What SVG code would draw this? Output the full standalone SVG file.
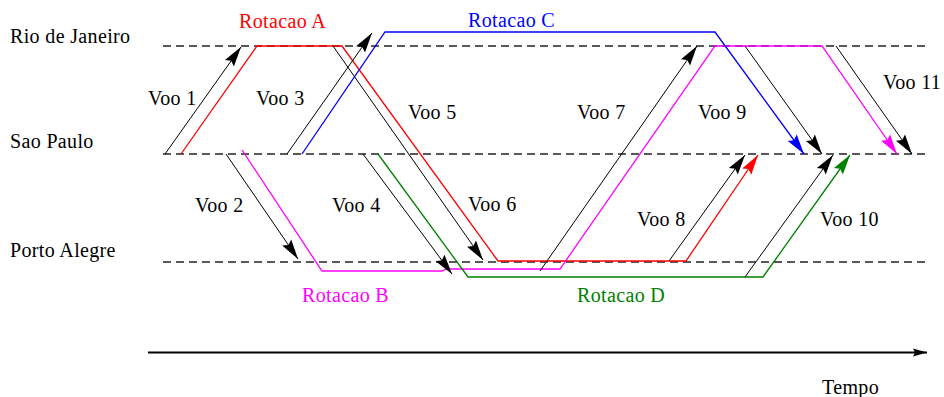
<svg xmlns="http://www.w3.org/2000/svg" width="944" height="397" viewBox="0 0 944 397">
<style>
  text { font-family: "Liberation Serif", "Times New Roman", serif; font-size: 20px; letter-spacing: 0.35px; fill: #000; }
  .lane { stroke: #222; stroke-width: 1.5; stroke-dasharray: 8 5; fill: none; }
  .f { stroke: #000; stroke-width: 1; fill: none; }
  .r { stroke: #ff0000; stroke-width: 1.3; fill: none; }
  .b { stroke: #0000ff; stroke-width: 1.3; fill: none; }
  .m { stroke: #ff00ff; stroke-width: 1.3; fill: none; }
  .g { stroke: #008000; stroke-width: 1.3; fill: none; }
</style>
<defs>
  <marker id="ak" markerUnits="userSpaceOnUse" markerWidth="24" markerHeight="14" viewBox="-22 -7 24 14" refX="0" refY="0" orient="auto"><path d="M0,0 L-20,-5.5 L-17,0 L-20,5.5 Z" fill="#000"/></marker>
  <marker id="ar" markerUnits="userSpaceOnUse" markerWidth="24" markerHeight="14" viewBox="-22 -7 24 14" refX="0" refY="0" orient="auto"><path d="M0,0 L-20,-5.5 L-17,0 L-20,5.5 Z" fill="#ff0000"/></marker>
  <marker id="ab" markerUnits="userSpaceOnUse" markerWidth="24" markerHeight="14" viewBox="-22 -7 24 14" refX="0" refY="0" orient="auto"><path d="M0,0 L-20,-5.5 L-17,0 L-20,5.5 Z" fill="#0000ff"/></marker>
  <marker id="am" markerUnits="userSpaceOnUse" markerWidth="24" markerHeight="14" viewBox="-22 -7 24 14" refX="0" refY="0" orient="auto"><path d="M0,0 L-20,-5.5 L-17,0 L-20,5.5 Z" fill="#ff00ff"/></marker>
  <marker id="ag" markerUnits="userSpaceOnUse" markerWidth="24" markerHeight="14" viewBox="-22 -7 24 14" refX="0" refY="0" orient="auto"><path d="M0,0 L-20,-5.5 L-17,0 L-20,5.5 Z" fill="#008000"/></marker>
  <marker id="ax" markerUnits="userSpaceOnUse" markerWidth="18" markerHeight="10" viewBox="-16 -5 18 10" refX="0" refY="0" orient="auto"><path d="M0,0 L-14,-4 L-12,0 L-14,4 Z" fill="#000"/></marker>
</defs>

<g id="cities">
  <g id="rio"><line class="lane" x1="163" y1="46" x2="928" y2="46"/><text x="10" y="43">Rio de Janeiro</text></g>
  <g id="sao-paulo"><line class="lane" x1="163" y1="154" x2="928" y2="154"/><text x="10" y="148">Sao Paulo</text></g>
  <g id="porto-alegre"><line class="lane" x1="163" y1="262" x2="928" y2="262"/><text x="10" y="257">Porto Alegre</text></g>
</g>

<g id="rotations">
  <g id="rotacao-a"><polyline class="r" points="181,154 257,46 342,46 498,261 686,261 758,155" marker-end="url(#ar)"/><text x="239" y="28" style="fill:#ff0000">Rotacao A</text></g>
  <g id="rotacao-b"><polyline class="m" points="242,150 322,271 442,271 446,269 560,269 715,46 822,46 897,154" marker-end="url(#am)"/><text x="302" y="302" style="fill:#ff00ff">Rotacao B</text></g>
  <g id="rotacao-c"><polyline class="b" points="302,154 385,32 715,32 804,154" marker-end="url(#ab)"/><text x="468" y="27" style="fill:#0000ff">Rotacao C</text></g>
  <g id="rotacao-d"><polyline class="g" points="378,154 468,277 763,277 850,155" marker-end="url(#ag)"/><text x="577" y="302" style="fill:#008000">Rotacao D</text></g>
</g>

<g id="connectors">
  <line class="f" x1="165" y1="154" x2="241" y2="47" marker-end="url(#ak)"/>
  <line class="f" x1="226" y1="154" x2="298" y2="259" marker-end="url(#ak)"/>
  <line class="f" x1="287" y1="154" x2="372" y2="33" marker-end="url(#ak)"/>
  <line class="f" x1="363" y1="154" x2="452" y2="274" marker-end="url(#ak)"/>
  <line class="f" x1="333" y1="46" x2="483" y2="260" marker-end="url(#ak)"/>
  <line class="f" x1="540" y1="271" x2="697" y2="46" marker-end="url(#ak)"/>
  <line class="f" x1="669" y1="261" x2="745" y2="155" marker-end="url(#ak)"/>
  <line class="f" x1="745" y1="46" x2="822" y2="154" marker-end="url(#ak)"/>
  <line class="f" x1="745" y1="277" x2="833" y2="155" marker-end="url(#ak)"/>
  <line class="f" x1="836" y1="46" x2="912" y2="154" marker-end="url(#ak)"/>
  <line x1="148" y1="352.5" x2="927" y2="352.5" stroke="#000" stroke-width="2" marker-end="url(#ax)"/>
</g>

<g id="labels">
  <text x="148" y="105">Voo 1</text>
  <text x="195" y="212">Voo 2</text>
  <text x="256" y="105">Voo 3</text>
  <text x="332" y="212">Voo 4</text>
  <text x="408" y="119">Voo 5</text>
  <text x="468" y="211">Voo 6</text>
  <text x="577" y="119">Voo 7</text>
  <text x="637" y="226">Voo 8</text>
  <text x="698" y="119">Voo 9</text>
  <text x="820" y="226">Voo 10</text>
  <text x="883" y="89">Voo 11</text>
  <text x="822" y="394">Tempo</text>
</g>
</svg>
